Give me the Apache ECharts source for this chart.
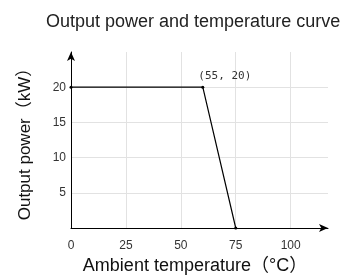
<!DOCTYPE html>
<html>
<head>
<meta charset="utf-8">
<script src="https://cdn.jsdelivr.net/npm/echarts@6/dist/echarts.min.js"></script>
<style>
  html, body { margin: 0; padding: 0; background: #fff; }
  #chart { width: 363px; height: 275px; }
</style>
</head>
<body>
<div id="chart"></div>
<script>
var temps = [0, 60, 75];
var power = [20, 20, 0];
var pointLabels = ["", "(55, 20)", ""];

var font = "'Liberation Sans', 'Noto Sans CJK SC', sans-serif";

var myChart = echarts.init(document.getElementById("chart"));
var option = {
  animation: false,
  title: {
    text: "Output power and temperature curve",
    left: 41,
    top: 8,
    textStyle: {
      fontFamily: font,
      fontSize: 18,
      fontWeight: "normal",
      color: "#222",
    },
  },
  grid: {
    left: 71,
    right: 35,
    top: 52,
    bottom: 47,
    outerBoundsMode: "none",
  },
  xAxis: {
    type: "value",
    min: 0,
    max: 117,
    interval: 25,
    name: "Ambient temperature（°C）",
    nameLocation: "middle",
    nameGap: 27,
    nameTextStyle: {
      fontFamily: font,
      fontSize: 18,
      color: "#111",
      padding: [0, 9, 0, 0],
    },
    axisLine: {
      lineStyle: { color: "#000", width: 1 },
      symbol: ["none", "arrow"],
      symbolSize: [6, 9],
    },
    axisTick: { show: false },
    axisLabel: {
      margin: 12,
      fontSize: 12,
      fontFamily: font,
      color: "#333",
      showMaxLabel: false,
    },
    splitLine: {
      show: true,
      showMaxLine: false,
      lineStyle: { color: "#e2e2e2" },
    },
  },
  yAxis: {
    type: "value",
    min: 0,
    max: 25,
    interval: 5,
    name: "Output power（kW）",
    nameLocation: "middle",
    nameGap: 37,
    nameTextStyle: {
      fontFamily: font,
      fontSize: 17,
      color: "#111",
    },
    axisLine: {
      show: true,
      lineStyle: { color: "#000", width: 1 },
      symbol: ["none", "arrow"],
      symbolSize: [6, 9],
    },
    axisTick: { show: false },
    axisLabel: {
      margin: 5,
      fontSize: 12,
      fontFamily: font,
      color: "#333",
      showMinLabel: false,
      showMaxLabel: false,
    },
    splitLine: {
      show: true,
      showMaxLine: false,
      lineStyle: { color: "#e2e2e2" },
    },
  },
  series: [
    {
      type: "line",
      data: temps.map(function (t, i) {
        return [t, power[i]];
      }),
      symbol: "circle",
      symbolSize: 3,
      lineStyle: { color: "#000", width: 1.2 },
      itemStyle: { color: "#000" },
      label: {
        show: true,
        position: "top",
        offset: [22, 1],
        fontFamily: "'DejaVu Sans Mono', monospace",
        fontSize: 11,
        color: "#333",
        formatter: function (p) {
          return pointLabels[p.dataIndex];
        },
      },
    },
  ],
};
myChart.setOption(option);
</script>
</body>
</html>
